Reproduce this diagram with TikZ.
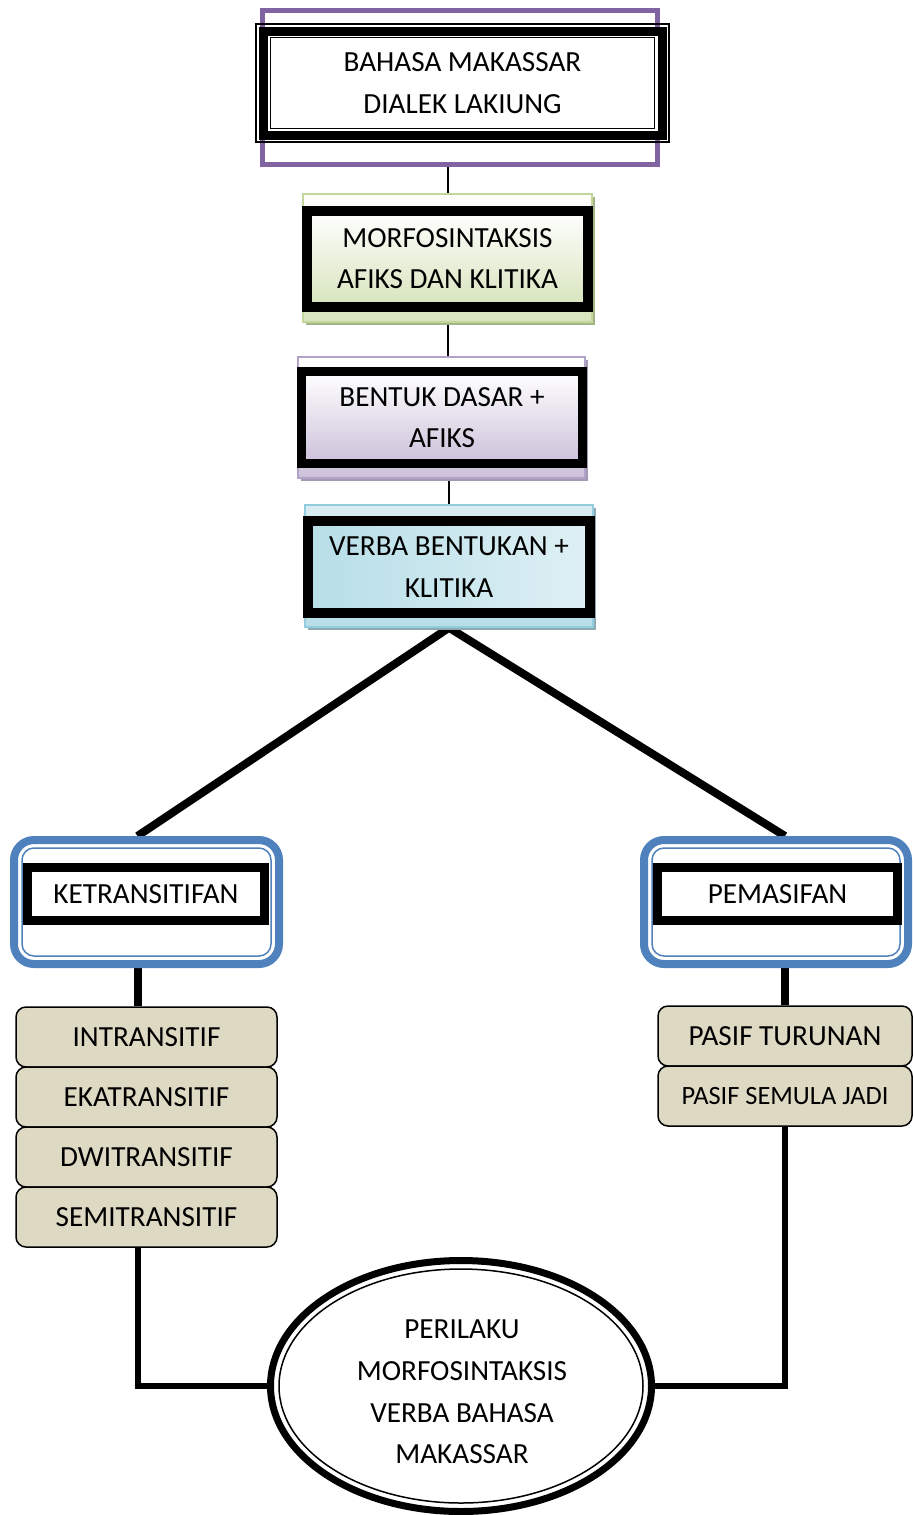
\documentclass[tikz,border=0pt]{standalone}
\usepackage{fontspec}
\setmainfont{Carlito}
\usetikzlibrary{shapes.geometric, shadows, backgrounds}

\definecolor{framepurple}{HTML}{8064A2}
\definecolor{greenline}{HTML}{C3D69B}
\definecolor{greenfill}{HTML}{D7E4BD}
\definecolor{greenshadow}{HTML}{A3B585}
\definecolor{lilacline}{HTML}{B3A2C7}
\definecolor{lilacfill}{HTML}{CCC1DA}
\definecolor{lilacshadow}{HTML}{A497B3}
\definecolor{cyanline}{HTML}{93CDDD}
\definecolor{cyanfill}{HTML}{B7DEE8}
\definecolor{cyanshadow}{HTML}{8FAAB3}
\definecolor{boxblue}{HTML}{4F81BD}
\definecolor{tanfill}{HTML}{DDD9C3}

\begin{document}
\begin{tikzpicture}[x=0.5pt, y=-0.5pt,
    txt/.style={font=\fontsize{14.6}{20.8}\selectfont, align=center, inner sep=0pt},
    heavybox/.style={txt, draw, line width=4.5pt, outer sep=0pt},
    backbox/.style={draw=#1, line width=0.75pt, inner sep=0pt},
    shadowed/.style={drop shadow={shadow xshift=1.5pt, shadow yshift=-1.5pt, opacity=1, fill=#1}},
    bluebox/.style={draw=boxblue, line width=4pt, rounded corners=10pt, inner sep=0pt, fill=white},
    blueinner/.style={draw=boxblue, line width=0.75pt, rounded corners=6pt, inner sep=0pt},
    tanbox/.style={txt, draw, fill=tanfill, line width=0.75pt, rounded corners=5pt, minimum height=30pt},
    thinlink/.style={line width=1pt},
    heavylink/.style={line width=4pt}]

	\useasboundingbox (0,0) rectangle (912,1515);
    \coordinate (lx) at (137.5,0);
    \coordinate (rx) at (785,0);

	% top box
	\node [draw=framepurple, line width=2.5pt, inner sep=0pt, minimum width=197.5pt, minimum height=77.25pt] (bahasaback) at (460,87.25) {};
	\node [heavybox, fill=white, minimum width=199.5pt, minimum height=52pt] (bahasa) at (462.5,83) {BAHASA MAKASSAR\\DIALEK LAKIUNG};
	\draw [line width=0.6pt] ([shift={(-3.5pt,3.5pt)}]bahasa.north west) rectangle ([shift={(3.5pt,-3.5pt)}]bahasa.south east);
	\draw [line width=0.6pt] ([shift={(3.75pt,-3.25pt)}]bahasa.north west) rectangle ([shift={(-3.75pt,3.25pt)}]bahasa.south east);

	% middle chain
	\node [backbox=greenline, top color=white, bottom color=greenfill, shadowed=greenshadow, minimum width=144.5pt, minimum height=64pt] (morfoback) at (447.5,258) {};
	\node [heavybox, line width=5pt, top color=white, bottom color=greenfill, minimum width=140.5pt, minimum height=48pt] (morfo) at (447.5,258.5) {MORFOSINTAKSIS\\AFIKS DAN KLITIKA};

	\node [backbox=lilacline, top color=white, bottom color=lilacfill, shadowed=lilacshadow, minimum width=143.5pt, minimum height=60.5pt] (bentukback) at (441.5,417.5) {};
	\node [heavybox, top color=white, bottom color=lilacfill, minimum width=140.5pt, minimum height=46pt] (bentuk) at (442,417.5) {BENTUK DASAR +\\AFIKS};

	\node [backbox=cyanline, top color=cyanfill!55, bottom color=cyanfill, shadowed=cyanshadow, minimum width=144pt, minimum height=61pt] (verbaback) at (449,566) {};
	\node [heavybox, line width=5pt, left color=cyanfill, right color=cyanfill!45, minimum width=141pt, minimum height=46pt] (verba) at (449,567) {VERBA BENTUKAN +\\KLITIKA};

	% two branches
	\node [bluebox, minimum width=132.5pt, minimum height=62pt] (ketframe) at (146.5,902) {};
	\node [blueinner, minimum width=124.5pt, minimum height=54pt] (ketin) at (146.5,902) {};
	\node [heavybox, fill=white, minimum width=118.5pt, minimum height=26.5pt] (ket) at (146,894) {KETRANSITIFAN};

	\node [bluebox, minimum width=132pt, minimum height=62pt] (pemframe) at (776,902) {};
	\node [blueinner, minimum width=124pt, minimum height=54pt] (pemin) at (776,902) {};
	\node [heavybox, fill=white, minimum width=120pt, minimum height=26.5pt] (pem) at (777.5,894) {PEMASIFAN};

	\node [tanbox, minimum width=130.5pt] (intr) at (146.5,1037) {INTRANSITIF};
	\node [tanbox, minimum width=130.5pt] (eka) at (146.5,1097) {EKATRANSITIF};
	\node [tanbox, minimum width=130.5pt] (dwi) at (146.5,1157) {DWITRANSITIF};
	\node [tanbox, minimum width=130.5pt] (semi) at (146.5,1217) {SEMITRANSITIF};

	\node [tanbox, minimum width=127pt] (turunan) at (785,1036) {PASIF TURUNAN};
	\node [tanbox, minimum width=127pt, font=\fontsize{13.2}{16}\selectfont] (semula) at (785,1096) {PASIF SEMULA JADI};

	% result
	\node [ellipse, draw, line width=3.5pt, fill=white, inner sep=0pt, minimum width=190.5pt, minimum height=125.5pt] (peri) at (461,1386) {};
	\node [ellipse, draw, line width=0.75pt, inner sep=0pt, minimum width=182pt, minimum height=117pt] (periin) at (461,1386) {};
	\node [txt] (peritext) at (462,1392) {PERILAKU\\MORFOSINTAKSIS\\VERBA BAHASA\\MAKASSAR};

	\begin{scope}[on background layer]
		\draw [thinlink] (bahasaback.south -| morfoback.north) -- (morfoback.north);
		\draw [thinlink] (morfoback.south) -- (morfoback.south |- bentukback.north);
		\draw [thinlink] (verbaback.north) -- (verbaback.north |- bentukback.south);
		\draw [heavylink] (lx |- ketframe.north) -- (verbaback.south) -- (rx |- pemframe.north);
		\draw [heavylink] (lx |- ketframe.south) -- (lx |- intr.north);
		\draw [heavylink] (rx |- pemframe.south) -- (rx |- turunan.north);
		\draw [line width=3pt] (lx |- semi.south) |- (peri.west);
		\draw [line width=3pt] (rx |- semula.south) |- (peri.east);
	\end{scope}
\end{tikzpicture}
\end{document}
